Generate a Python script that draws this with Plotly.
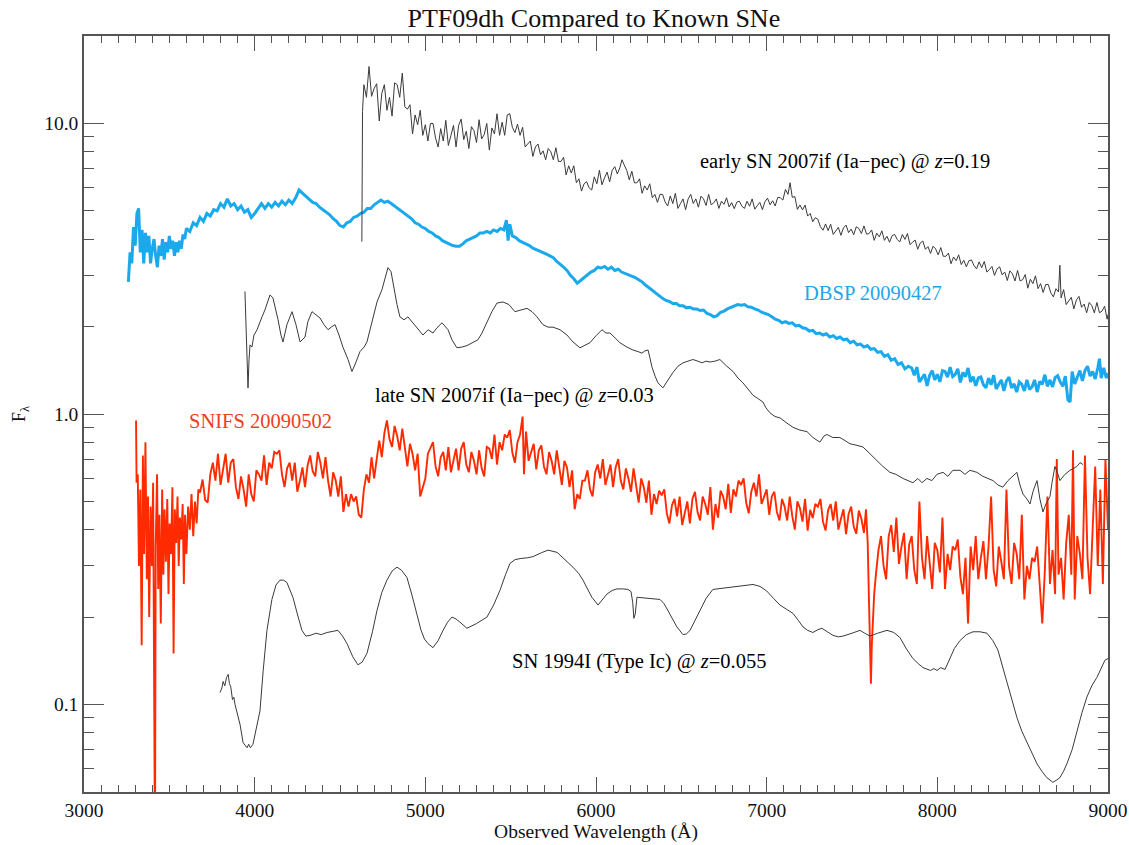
import numpy as np
import plotly.graph_objects as go

# ---------------------------------------------------------------------------
# Spectra: (observed wavelength [Angstrom], F_lambda [arbitrary, offset])
# ---------------------------------------------------------------------------

EARLY_2007IF = [
    (4628, 3.92), (4632, 11.0), (4640, 13.6), (4655, 12.3), (4670, 15.7), (4685, 12.4),
    (4700, 13.2), (4715, 13.7), (4730, 10.2), (4745, 12.7), (4760, 13.6), (4775, 11.1),
    (4790, 12.3), (4805, 10.6), (4820, 13.8), (4835, 13.6), (4850, 12.3), (4865, 14.9),
    (4880, 11.4), (4895, 11.2), (4910, 11.6), (4925, 9.2), (4940, 10.7), (4955, 9.9),
    (4970, 11.1), (4985, 9.1), (5000, 9.9), (5015, 8.7), (5030, 10.0), (5045, 10.0),
    (5060, 8.9), (5075, 8.3), (5090, 9.6), (5105, 8.7), (5120, 10.25), (5135, 8.4),
    (5150, 9.1), (5165, 9.85), (5180, 8.3), (5195, 9.85), (5210, 10.35), (5225, 8.8),
    (5240, 9.4), (5255, 8.2), (5270, 9.75), (5285, 9.45), (5300, 8.6), (5315, 10.3),
    (5330, 8.85), (5345, 9.15), (5360, 10.0), (5375, 8.1), (5390, 9.65), (5405, 9.2),
    (5420, 10.8), (5435, 9.1), (5450, 10.1), (5465, 9.1), (5480, 10.7), (5495, 10.8),
    (5510, 9.7), (5525, 9.3), (5540, 9.95), (5555, 9.1), (5570, 9.7), (5585, 8.3),
    (5600, 8.5), (5615, 8.7), (5630, 7.7), (5645, 8.3), (5660, 8.5), (5675, 7.8),
    (5690, 8.05), (5705, 7.5), (5720, 8.2), (5735, 8.0), (5750, 7.5), (5765, 8.25),
    (5780, 7.4), (5795, 7.4), (5810, 7.65), (5825, 6.65), (5840, 7.15), (5855, 6.75),
    (5870, 7.15), (5885, 6.25), (5900, 6.45), (5915, 5.85), (5930, 6.2), (5945, 6.3),
    (5960, 6.0), (5975, 5.9), (5990, 6.55), (6005, 6.2), (6020, 6.9), (6035, 6.15),
    (6050, 6.5), (6065, 6.8), (6080, 6.3), (6095, 6.9), (6110, 7.1), (6125, 6.7),
    (6140, 7.05), (6152, 7.5), (6165, 7.2), (6180, 6.9), (6195, 6.4), (6210, 6.85),
    (6225, 6.25), (6240, 6.25), (6255, 6.45), (6270, 5.75), (6285, 6.1), (6300, 5.9),
    (6315, 6.2), (6330, 5.55), (6345, 5.7), (6360, 5.35), (6375, 5.7), (6390, 5.7),
    (6405, 5.37), (6420, 5.2), (6435, 5.63), (6450, 5.3), (6465, 5.75), (6480, 5.1),
    (6495, 5.3), (6510, 5.5), (6525, 5.05), (6540, 5.5), (6555, 5.7), (6570, 5.3),
    (6585, 5.5), (6600, 5.15), (6615, 5.62), (6630, 5.5), (6645, 5.22), (6660, 5.7),
    (6675, 5.25), (6690, 5.33), (6705, 5.5), (6720, 5.1), (6735, 5.4), (6750, 5.27),
    (6765, 5.55), (6780, 5.16), (6795, 5.34), (6810, 5.09), (6825, 5.36), (6840, 5.4),
    (6855, 5.19), (6870, 5.1), (6885, 5.4), (6900, 5.19), (6915, 5.5), (6930, 5.07),
    (6945, 5.21), (6960, 5.35), (6975, 5.05), (6990, 5.38), (7005, 5.53), (7020, 5.25),
    (7035, 5.42), (7050, 5.2), (7065, 5.57), (7080, 5.55), (7095, 5.45), (7110, 5.93),
    (7125, 5.7), (7137, 6.25), (7150, 5.57), (7165, 5.6), (7180, 5.06), (7195, 5.24),
    (7210, 5.04), (7225, 5.24), (7240, 4.8), (7255, 4.9), (7270, 4.59), (7285, 4.74),
    (7300, 4.68), (7315, 4.41), (7330, 4.29), (7345, 4.51), (7360, 4.28), (7375, 4.5),
    (7390, 4.15), (7405, 4.27), (7420, 4.39), (7435, 4.12), (7450, 4.37), (7465, 4.47),
    (7480, 4.21), (7495, 4.33), (7510, 4.14), (7525, 4.41), (7540, 4.35), (7555, 4.18),
    (7570, 4.44), (7585, 4.16), (7600, 4.18), (7615, 4.3), (7630, 3.96), (7645, 4.19),
    (7660, 4.07), (7675, 4.27), (7690, 3.96), (7705, 4.09), (7720, 3.9), (7735, 4.11),
    (7750, 4.15), (7765, 3.99), (7780, 3.91), (7795, 4.15), (7810, 3.99), (7825, 4.18),
    (7840, 3.83), (7855, 3.9), (7870, 3.97), (7885, 3.69), (7900, 3.88), (7915, 3.94),
    (7930, 3.69), (7945, 3.77), (7960, 3.57), (7975, 3.78), (7990, 3.7), (8005, 3.53),
    (8020, 3.74), (8035, 3.49), (8050, 3.49), (8065, 3.58), (8080, 3.29), (8095, 3.47),
    (8110, 3.37), (8125, 3.53), (8140, 3.27), (8155, 3.38), (8170, 3.21), (8185, 3.37),
    (8200, 3.39), (8215, 3.24), (8230, 3.16), (8245, 3.34), (8260, 3.19), (8275, 3.35),
    (8290, 3.08), (8305, 3.14), (8320, 3.22), (8335, 3.0), (8350, 3.16), (8365, 3.21),
    (8380, 3.01), (8395, 3.08), (8410, 2.88), (8425, 3.11), (8440, 3.04), (8455, 2.87),
    (8470, 3.12), (8485, 2.87), (8500, 2.9), (8515, 3.02), (8530, 2.71), (8545, 2.91),
    (8560, 2.81), (8575, 2.99), (8590, 2.7), (8605, 2.81), (8620, 2.62), (8635, 2.79),
    (8650, 2.79), (8665, 2.61), (8680, 2.53), (8695, 2.7), (8710, 2.63), (8718, 3.25),
    (8725, 2.51), (8740, 2.68), (8755, 2.38), (8770, 2.45), (8785, 2.52), (8800, 2.3),
    (8815, 2.47), (8830, 2.54), (8845, 2.33), (8860, 2.39), (8875, 2.23), (8890, 2.42),
    (8905, 2.36), (8920, 2.23), (8935, 2.42), (8950, 2.23), (8965, 2.26), (8980, 2.35),
    (8995, 2.12), (9000, 2.2),
]

DBSP_20090427 = [
    (3260, 2.85), (3270, 3.6), (3280, 3.3), (3290, 4.4), (3300, 3.8), (3310, 4.9),
    (3320, 5.1), (3330, 3.6), (3340, 4.3), (3350, 3.3), (3360, 4.2), (3370, 3.6),
    (3380, 4.1), (3390, 3.3), (3400, 3.7), (3410, 4.0), (3420, 3.5), (3430, 3.2),
    (3440, 3.8), (3450, 3.5), (3460, 4.0), (3470, 3.4), (3480, 3.9), (3490, 3.6),
    (3500, 4.1), (3510, 3.7), (3520, 3.95), (3530, 3.5), (3540, 3.9), (3550, 3.6),
    (3560, 3.95), (3570, 3.7), (3580, 4.15), (3590, 4.0), (3600, 4.35), (3620, 4.25),
    (3640, 4.55), (3660, 4.45), (3680, 4.75), (3700, 4.6), (3720, 4.9), (3740, 4.8),
    (3760, 5.05), (3780, 5.0), (3800, 5.3), (3820, 5.15), (3840, 5.5), (3860, 5.2),
    (3880, 5.3), (3900, 5.05), (3920, 5.2), (3940, 4.95), (3960, 5.05), (3980, 4.75),
    (4000, 4.9), (4020, 5.1), (4040, 5.3), (4060, 5.1), (4080, 5.3), (4100, 5.15),
    (4120, 5.35), (4140, 5.2), (4160, 5.4), (4180, 5.25), (4200, 5.45), (4220, 5.3),
    (4240, 5.55), (4260, 5.9), (4280, 5.75), (4300, 5.6), (4320, 5.5), (4340, 5.35),
    (4360, 5.3), (4380, 5.15), (4400, 5.05), (4420, 4.95), (4440, 4.85), (4460, 4.7),
    (4480, 4.6), (4500, 4.45), (4520, 4.4), (4540, 4.55), (4560, 4.6), (4580, 4.75),
    (4600, 4.8), (4620, 4.9), (4640, 4.95), (4660, 5.1), (4680, 5.1), (4700, 5.25),
    (4720, 5.35), (4740, 5.45), (4760, 5.35), (4780, 5.4), (4800, 5.3), (4820, 5.2),
    (4840, 5.1), (4860, 5.0), (4880, 4.9), (4900, 4.8), (4920, 4.7), (4940, 4.55),
    (4960, 4.5), (4980, 4.4), (5000, 4.35), (5020, 4.25), (5040, 4.2), (5060, 4.1),
    (5080, 4.05), (5100, 3.95), (5120, 3.9), (5140, 3.85), (5160, 3.8), (5180, 3.78),
    (5200, 3.78), (5220, 3.85), (5240, 3.95), (5260, 4.0), (5280, 4.05), (5300, 4.1),
    (5320, 4.2), (5340, 4.2), (5360, 4.25), (5380, 4.2), (5400, 4.3), (5420, 4.25),
    (5440, 4.35), (5460, 4.3), (5475, 4.65), (5485, 3.95), (5495, 4.5), (5510, 4.1),
    (5530, 4.05), (5550, 3.95), (5570, 3.9), (5590, 3.85), (5610, 3.8), (5630, 3.72),
    (5650, 3.68), (5670, 3.62), (5690, 3.58), (5710, 3.55), (5730, 3.5), (5750, 3.45),
    (5770, 3.35), (5790, 3.28), (5810, 3.2), (5830, 3.12), (5850, 3.0), (5870, 2.92),
    (5890, 2.82), (5910, 2.88), (5930, 2.95), (5950, 3.02), (5970, 3.08), (5990, 3.12),
    (6010, 3.2), (6030, 3.18), (6050, 3.22), (6070, 3.15), (6090, 3.2), (6110, 3.12),
    (6130, 3.15), (6150, 3.08), (6170, 3.05), (6190, 3.02), (6210, 2.98), (6230, 2.95),
    (6250, 2.9), (6270, 2.85), (6290, 2.78), (6310, 2.72), (6330, 2.68), (6350, 2.62),
    (6370, 2.56), (6390, 2.5), (6410, 2.46), (6430, 2.44), (6450, 2.4), (6470, 2.4),
    (6490, 2.36), (6510, 2.36), (6530, 2.32), (6550, 2.33), (6570, 2.3), (6590, 2.3),
    (6610, 2.27), (6630, 2.28), (6650, 2.22), (6670, 2.2), (6690, 2.16), (6710, 2.18),
    (6730, 2.24), (6750, 2.26), (6770, 2.3), (6790, 2.33), (6810, 2.36), (6830, 2.38),
    (6850, 2.37), (6870, 2.38), (6890, 2.34), (6910, 2.33), (6930, 2.3), (6950, 2.28),
    (6970, 2.24), (6990, 2.22), (7010, 2.2), (7030, 2.16), (7050, 2.12), (7070, 2.1),
    (7090, 2.06), (7110, 2.08), (7130, 2.05), (7150, 2.06), (7170, 2.01), (7190, 2.02),
    (7210, 1.98), (7230, 1.97), (7250, 1.93), (7270, 1.94), (7290, 1.89), (7310, 1.9),
    (7330, 1.87), (7350, 1.89), (7370, 1.84), (7390, 1.86), (7410, 1.82), (7430, 1.84),
    (7450, 1.8), (7470, 1.81), (7490, 1.76), (7510, 1.78), (7530, 1.73), (7550, 1.74),
    (7570, 1.7), (7590, 1.72), (7610, 1.67), (7630, 1.68), (7650, 1.63), (7670, 1.64),
    (7690, 1.58), (7710, 1.6), (7730, 1.53), (7750, 1.55), (7770, 1.48), (7790, 1.5),
    (7810, 1.43), (7830, 1.46), (7850, 1.44), (7865, 1.36), (7880, 1.45), (7895, 1.29),
    (7910, 1.33), (7925, 1.37), (7940, 1.25), (7955, 1.36), (7970, 1.41), (7985, 1.31),
    (8000, 1.37), (8015, 1.29), (8030, 1.41), (8045, 1.40), (8060, 1.34), (8075, 1.45),
    (8090, 1.345), (8105, 1.37), (8120, 1.43), (8135, 1.285), (8150, 1.39), (8165, 1.345),
    (8180, 1.44), (8195, 1.29), (8210, 1.345), (8225, 1.25), (8240, 1.33), (8255, 1.34),
    (8270, 1.26), (8285, 1.23), (8300, 1.33), (8315, 1.26), (8330, 1.36), (8345, 1.22),
    (8360, 1.265), (8375, 1.31), (8390, 1.2), (8405, 1.30), (8420, 1.34), (8435, 1.23),
    (8450, 1.27), (8465, 1.19), (8480, 1.29), (8495, 1.265), (8510, 1.20), (8525, 1.31),
    (8540, 1.215), (8555, 1.24), (8570, 1.31), (8585, 1.19), (8600, 1.295), (8615, 1.265),
    (8630, 1.365), (8645, 1.245), (8660, 1.31), (8675, 1.24), (8690, 1.335), (8705, 1.355),
    (8720, 1.29), (8735, 1.245), (8750, 1.35), (8765, 1.12), (8778, 1.10), (8790, 1.40),
    (8805, 1.27), (8820, 1.33), (8835, 1.41), (8850, 1.30), (8865, 1.41), (8880, 1.46),
    (8895, 1.35), (8910, 1.40), (8925, 1.32), (8940, 1.44), (8950, 1.55), (8960, 1.33),
    (8975, 1.44), (8990, 1.33), (9000, 1.38),
]

LATE_2007IF = [
    (3943, 2.64), (3949, 1.95), (3955, 1.42), (3961, 1.23), (3967, 1.54), (3973, 1.73),
    (3984, 1.70), (3996, 1.87), (4014, 1.95), (4031, 2.08), (4043, 2.16), (4060, 2.28),
    (4078, 2.47), (4090, 2.57), (4107, 2.51), (4125, 2.28), (4137, 2.11), (4154, 1.87),
    (4166, 1.77), (4189, 2.03), (4219, 2.25), (4242, 2.03), (4266, 1.77), (4295, 1.84),
    (4312, 2.08), (4336, 2.25), (4359, 2.19), (4383, 2.14), (4406, 2.03), (4430, 1.95),
    (4453, 2.00), (4471, 2.03), (4494, 1.87), (4517, 1.70), (4547, 1.54), (4570, 1.40),
    (4594, 1.51), (4617, 1.64), (4641, 1.70), (4658, 1.77), (4676, 1.95), (4693, 2.16),
    (4717, 2.43), (4746, 2.68), (4764, 2.97), (4781, 3.19), (4799, 3.09), (4816, 2.68),
    (4834, 2.38), (4851, 2.16), (4875, 2.11), (4898, 2.16), (4922, 2.08), (4951, 1.99),
    (4986, 1.87), (5016, 1.95), (5045, 1.90), (5068, 1.98), (5098, 2.06), (5133, 1.95),
    (5156, 1.80), (5185, 1.69), (5215, 1.70), (5244, 1.72), (5273, 1.76), (5308, 1.80),
    (5332, 1.90), (5361, 2.06), (5390, 2.25), (5420, 2.41), (5455, 2.43), (5490, 2.38),
    (5525, 2.25), (5560, 2.28), (5596, 2.31), (5625, 2.25), (5654, 2.16), (5689, 2.03),
    (5719, 1.99), (5748, 1.99), (5789, 1.95), (5830, 1.87), (5865, 1.77), (5906, 1.69),
    (5935, 1.72), (5965, 1.76), (6000, 1.86), (6035, 1.95), (6058, 1.90), (6082, 1.90),
    (6111, 1.83), (6140, 1.76), (6181, 1.70), (6217, 1.66), (6246, 1.64), (6269, 1.62),
    (6287, 1.65), (6305, 1.66), (6316, 1.56), (6328, 1.45), (6346, 1.35), (6363, 1.28),
    (6392, 1.23), (6422, 1.31), (6451, 1.39), (6480, 1.46), (6510, 1.50), (6539, 1.52),
    (6568, 1.54), (6597, 1.52), (6621, 1.50), (6644, 1.52), (6668, 1.51), (6697, 1.52),
    (6726, 1.54), (6767, 1.46), (6803, 1.40), (6832, 1.33), (6861, 1.28), (6890, 1.22),
    (6920, 1.16), (6949, 1.13), (6978, 1.10), (6996, 1.05), (7019, 1.01), (7049, 0.98),
    (7078, 0.97), (7119, 0.93), (7154, 0.90), (7195, 0.88), (7236, 0.87), (7271, 0.83),
    (7312, 0.80), (7336, 0.84), (7353, 0.85), (7388, 0.83), (7429, 0.83), (7459, 0.81),
    (7488, 0.79), (7529, 0.78), (7564, 0.77), (7605, 0.73), (7646, 0.69), (7681, 0.66),
    (7722, 0.63), (7757, 0.62), (7799, 0.60), (7828, 0.59), (7857, 0.58), (7886, 0.60),
    (7910, 0.58), (7939, 0.60), (7968, 0.59), (7998, 0.62), (8033, 0.63), (8062, 0.61),
    (8091, 0.64), (8133, 0.64), (8162, 0.62), (8191, 0.64), (8232, 0.63), (8267, 0.61),
    (8297, 0.60), (8326, 0.59), (8355, 0.57), (8384, 0.56), (8414, 0.59), (8443, 0.61),
    (8466, 0.63), (8484, 0.57), (8502, 0.53), (8525, 0.51), (8543, 0.49), (8560, 0.54),
    (8584, 0.59), (8601, 0.51), (8619, 0.46), (8636, 0.49), (8660, 0.52), (8672, 0.58),
    (8689, 0.66), (8707, 0.62), (8718, 0.59), (8748, 0.62), (8777, 0.64), (8800, 0.65),
    (8818, 0.66), (8836, 0.68), (8853, 0.67),
]

SNIFS_20090502 = [
    (3305, 0.95), (3308, 0.58), (3315, 0.62), (3322, 0.30), (3330, 0.55), (3338, 0.16),
    (3345, 0.72), (3352, 0.33), (3360, 0.80), (3368, 0.27), (3375, 0.52), (3382, 0.20),
    (3390, 0.48), (3398, 0.30), (3405, 0.58), (3412, 0.09), (3416, 0.03), (3420, 0.35),
    (3428, 0.62), (3435, 0.25), (3442, 0.45), (3450, 0.19), (3458, 0.55), (3465, 0.28),
    (3472, 0.47), (3480, 0.31), (3488, 0.51), (3495, 0.24), (3502, 0.42), (3510, 0.33),
    (3518, 0.56), (3525, 0.15), (3532, 0.47), (3540, 0.36), (3548, 0.52), (3555, 0.30),
    (3562, 0.44), (3570, 0.37), (3578, 0.49), (3585, 0.26), (3592, 0.45), (3600, 0.33),
    (3610, 0.48), (3620, 0.40), (3630, 0.53), (3640, 0.38), (3650, 0.50), (3660, 0.42),
    (3670, 0.55), (3680, 0.537), (3695, 0.595), (3710, 0.506), (3725, 0.496), (3740, 0.62),
    (3755, 0.68), (3770, 0.59), (3785, 0.73), (3800, 0.57), (3815, 0.65), (3830, 0.73),
    (3845, 0.58), (3860, 0.68), (3875, 0.70), (3890, 0.56), (3905, 0.51), (3920, 0.61),
    (3935, 0.55), (3950, 0.48), (3965, 0.62), (3980, 0.53), (3995, 0.50), (4010, 0.64),
    (4025, 0.62), (4040, 0.59), (4055, 0.72), (4070, 0.57), (4085, 0.68), (4100, 0.65),
    (4115, 0.74), (4130, 0.73), (4145, 0.75), (4160, 0.62), (4175, 0.56), (4190, 0.65),
    (4205, 0.68), (4220, 0.59), (4235, 0.68), (4250, 0.54), (4265, 0.59), (4280, 0.655),
    (4295, 0.56), (4310, 0.665), (4325, 0.72), (4340, 0.635), (4355, 0.61), (4370, 0.74),
    (4385, 0.68), (4400, 0.60), (4415, 0.71), (4430, 0.59), (4445, 0.52), (4460, 0.63),
    (4475, 0.59), (4490, 0.52), (4505, 0.61), (4520, 0.46), (4535, 0.53), (4550, 0.48),
    (4565, 0.53), (4580, 0.50), (4595, 0.52), (4610, 0.45), (4625, 0.44), (4640, 0.55),
    (4655, 0.62), (4670, 0.58), (4685, 0.71), (4700, 0.60), (4715, 0.70), (4730, 0.81),
    (4745, 0.71), (4760, 0.86), (4775, 0.95), (4790, 0.82), (4805, 0.77), (4820, 0.91),
    (4835, 0.84), (4850, 0.75), (4865, 0.89), (4880, 0.75), (4895, 0.66), (4910, 0.79),
    (4925, 0.73), (4940, 0.64), (4955, 0.73), (4970, 0.52), (4985, 0.56), (5000, 0.60),
    (5015, 0.73), (5030, 0.76), (5045, 0.80), (5060, 0.66), (5075, 0.61), (5090, 0.71),
    (5105, 0.74), (5120, 0.64), (5135, 0.77), (5150, 0.63), (5165, 0.69), (5180, 0.76),
    (5195, 0.64), (5210, 0.76), (5225, 0.80), (5240, 0.67), (5255, 0.63), (5270, 0.74),
    (5285, 0.69), (5300, 0.62), (5315, 0.75), (5330, 0.65), (5345, 0.61), (5360, 0.77),
    (5375, 0.76), (5390, 0.70), (5405, 0.85), (5420, 0.67), (5435, 0.80), (5450, 0.75),
    (5465, 0.85), (5480, 0.83), (5495, 0.88), (5510, 0.735), (5525, 0.68), (5540, 0.80),
    (5555, 0.85), (5570, 0.98), (5578, 0.62), (5590, 0.87), (5605, 0.69), (5620, 0.74),
    (5635, 0.79), (5650, 0.645), (5665, 0.75), (5680, 0.78), (5695, 0.66), (5710, 0.62),
    (5725, 0.74), (5740, 0.69), (5755, 0.62), (5770, 0.75), (5785, 0.64), (5800, 0.57),
    (5815, 0.69), (5830, 0.655), (5845, 0.56), (5860, 0.64), (5875, 0.47), (5890, 0.53),
    (5905, 0.51), (5920, 0.59), (5935, 0.59), (5950, 0.64), (5965, 0.55), (5980, 0.52),
    (5995, 0.63), (6010, 0.67), (6025, 0.60), (6040, 0.70), (6055, 0.57), (6070, 0.62),
    (6085, 0.67), (6100, 0.56), (6115, 0.655), (6130, 0.70), (6145, 0.59), (6160, 0.55),
    (6175, 0.65), (6190, 0.60), (6205, 0.54), (6220, 0.65), (6235, 0.555), (6250, 0.495),
    (6265, 0.60), (6280, 0.56), (6295, 0.495), (6310, 0.59), (6325, 0.45), (6340, 0.53),
    (6355, 0.49), (6370, 0.545), (6385, 0.525), (6400, 0.55), (6415, 0.455), (6430, 0.42),
    (6445, 0.485), (6460, 0.51), (6475, 0.444), (6490, 0.52), (6505, 0.415), (6520, 0.455),
    (6535, 0.50), (6550, 0.42), (6565, 0.51), (6580, 0.54), (6595, 0.46), (6610, 0.43),
    (6625, 0.52), (6640, 0.49), (6655, 0.45), (6670, 0.56), (6685, 0.40), (6700, 0.49),
    (6715, 0.44), (6730, 0.545), (6745, 0.52), (6760, 0.47), (6775, 0.575), (6790, 0.457),
    (6805, 0.55), (6820, 0.52), (6835, 0.59), (6850, 0.57), (6865, 0.60), (6880, 0.495),
    (6895, 0.455), (6910, 0.54), (6925, 0.58), (6940, 0.52), (6955, 0.62), (6970, 0.49),
    (6985, 0.52), (7000, 0.55), (7015, 0.45), (7030, 0.52), (7045, 0.54), (7060, 0.46),
    (7075, 0.43), (7090, 0.51), (7105, 0.48), (7120, 0.43), (7135, 0.52), (7150, 0.445),
    (7165, 0.40), (7180, 0.50), (7195, 0.474), (7210, 0.426), (7225, 0.51), (7240, 0.397),
    (7255, 0.468), (7270, 0.438), (7285, 0.49), (7300, 0.48), (7315, 0.51), (7330, 0.426),
    (7345, 0.397), (7360, 0.467), (7375, 0.49), (7390, 0.43), (7405, 0.50), (7420, 0.40),
    (7435, 0.435), (7450, 0.47), (7465, 0.386), (7480, 0.453), (7495, 0.48), (7510, 0.41),
    (7525, 0.387), (7540, 0.465), (7555, 0.436), (7570, 0.39), (7582, 0.47), (7592, 0.36),
    (7600, 0.22), (7606, 0.14), (7611, 0.118), (7616, 0.16), (7623, 0.20), (7630, 0.24),
    (7640, 0.28), (7655, 0.34), (7670, 0.38), (7685, 0.30), (7700, 0.27), (7715, 0.38),
    (7730, 0.415), (7745, 0.335), (7760, 0.44), (7775, 0.305), (7790, 0.35), (7805, 0.39),
    (7820, 0.27), (7835, 0.355), (7850, 0.38), (7865, 0.29), (7880, 0.26), (7895, 0.50),
    (7910, 0.32), (7925, 0.27), (7940, 0.38), (7955, 0.30), (7970, 0.25), (7985, 0.36),
    (8000, 0.34), (8015, 0.285), (8030, 0.44), (8045, 0.25), (8060, 0.33), (8075, 0.29),
    (8090, 0.35), (8105, 0.34), (8120, 0.37), (8135, 0.275), (8150, 0.24), (8165, 0.32),
    (8180, 0.19), (8195, 0.35), (8210, 0.29), (8225, 0.38), (8240, 0.27), (8255, 0.32),
    (8270, 0.365), (8285, 0.27), (8300, 0.35), (8315, 0.52), (8330, 0.29), (8345, 0.255),
    (8360, 0.35), (8375, 0.31), (8390, 0.27), (8405, 0.55), (8420, 0.30), (8435, 0.26),
    (8450, 0.36), (8465, 0.33), (8480, 0.27), (8495, 0.45), (8510, 0.23), (8525, 0.30),
    (8540, 0.27), (8555, 0.32), (8570, 0.31), (8585, 0.35), (8600, 0.25), (8615, 0.19),
    (8630, 0.29), (8645, 0.52), (8660, 0.26), (8675, 0.34), (8690, 0.24), (8700, 0.70),
    (8710, 0.28), (8725, 0.32), (8740, 0.23), (8755, 0.36), (8770, 0.45), (8785, 0.28),
    (8795, 0.75), (8805, 0.23), (8820, 0.38), (8835, 0.33), (8850, 0.27), (8865, 0.72),
    (8880, 0.32), (8895, 0.24), (8910, 0.40), (8925, 0.66), (8940, 0.30), (8955, 0.55),
    (8970, 0.26), (8985, 0.70), (9000, 0.40),
]

SN1994I = [
    (3797, 0.110), (3808, 0.114), (3815, 0.120), (3825, 0.116), (3835, 0.124),
    (3845, 0.127), (3852, 0.118), (3860, 0.115), (3870, 0.104), (3878, 0.106),
    (3885, 0.100), (3895, 0.094), (3905, 0.088), (3915, 0.085), (3932, 0.074),
    (3945, 0.072), (3955, 0.071), (3965, 0.073), (3975, 0.071), (3990, 0.073),
    (4010, 0.082), (4031, 0.095), (4050, 0.131), (4072, 0.180), (4101, 0.230),
    (4125, 0.258), (4148, 0.268), (4170, 0.268), (4189, 0.263), (4225, 0.233),
    (4250, 0.205), (4277, 0.180), (4300, 0.172), (4324, 0.173), (4360, 0.176),
    (4390, 0.174), (4424, 0.177), (4460, 0.179), (4488, 0.180), (4515, 0.172),
    (4541, 0.162), (4575, 0.146), (4605, 0.137), (4630, 0.140), (4658, 0.150),
    (4690, 0.178), (4717, 0.211), (4745, 0.243), (4775, 0.268), (4805, 0.288),
    (4834, 0.297), (4860, 0.290), (4892, 0.274), (4920, 0.240), (4951, 0.206),
    (4975, 0.180), (4995, 0.168), (5016, 0.162), (5045, 0.157), (5075, 0.166),
    (5104, 0.180), (5130, 0.192), (5156, 0.200), (5180, 0.197), (5203, 0.192),
    (5244, 0.183), (5300, 0.190), (5361, 0.200), (5400, 0.220), (5437, 0.247),
    (5470, 0.280), (5496, 0.306), (5525, 0.315), (5555, 0.318), (5600, 0.320),
    (5631, 0.323), (5680, 0.333), (5719, 0.340), (5772, 0.334), (5820, 0.315),
    (5865, 0.297), (5900, 0.282), (5924, 0.268), (5950, 0.250), (5976, 0.234),
    (6012, 0.220), (6040, 0.230), (6064, 0.240), (6095, 0.247), (6123, 0.250),
    (6160, 0.250), (6187, 0.249), (6205, 0.245), (6215, 0.225), (6222, 0.198),
    (6230, 0.205), (6240, 0.234), (6270, 0.233), (6299, 0.232), (6340, 0.231),
    (6375, 0.230), (6400, 0.222), (6422, 0.211), (6450, 0.196), (6474, 0.185),
    (6510, 0.174), (6530, 0.175), (6551, 0.180), (6580, 0.195), (6609, 0.211),
    (6645, 0.232), (6685, 0.249), (6730, 0.251), (6785, 0.252), (6850, 0.255),
    (6920, 0.259), (6961, 0.255), (7000, 0.246), (7040, 0.232), (7078, 0.220),
    (7115, 0.213), (7154, 0.206), (7185, 0.195), (7213, 0.185), (7240, 0.180),
    (7271, 0.177), (7300, 0.181), (7324, 0.183), (7355, 0.178), (7389, 0.173),
    (7420, 0.171), (7447, 0.172), (7500, 0.176), (7547, 0.180), (7575, 0.176),
    (7605, 0.172), (7650, 0.176), (7705, 0.180), (7745, 0.177), (7781, 0.170),
    (7820, 0.155), (7857, 0.144), (7890, 0.138), (7916, 0.134), (7960, 0.131),
    (7980, 0.133), (7998, 0.131), (8020, 0.134), (8045, 0.132), (8074, 0.145),
    (8100, 0.156), (8133, 0.166), (8170, 0.174), (8209, 0.178), (8250, 0.178),
    (8291, 0.176), (8325, 0.166), (8355, 0.154), (8380, 0.136), (8408, 0.118),
    (8437, 0.103), (8467, 0.090), (8495, 0.081), (8525, 0.074), (8555, 0.068),
    (8584, 0.0625), (8612, 0.059), (8642, 0.056), (8660, 0.055), (8677, 0.054),
    (8700, 0.055), (8718, 0.056), (8740, 0.059), (8759, 0.0625), (8790, 0.070),
    (8818, 0.081), (8848, 0.094), (8876, 0.106), (8905, 0.116), (8935, 0.124),
    (8960, 0.134), (8982, 0.142), (9000, 0.144),
]

# Axis extents and tick labels
X_RANGE = [3000, 9000]
Y_RANGE = [0.05, 20.0]
X_TICKS = [3000, 4000, 5000, 6000, 7000, 8000, 9000]
Y_TICKS = [0.1, 1.0, 10.0]
Y_TICK_TEXT = ["0.1", "1.0", "10.0"]

BLUE = "#1aa9ec"
RED = "#ff2a00"
DARK = "#3a3a3a"
FONT = "Liberation Serif"

# Labels: (text, left-edge wavelength, flux at text centre, colour)
LABELS = [
    ("early SN 2007if (Ia\u2212pec) @ <i>z</i>=0.19", 6597, 7.4, "#000000"),
    ("DBSP 20090427", 7207, 2.61, "#22a6e6"),
    ("late SN 2007if (Ia\u2212pec) @ <i>z</i>=0.03", 4693, 1.16, "#000000"),
    ("SNIFS 20090502", 3603, 0.946, "#ec3f22"),
    ("SN 1994I (Type Ic) @ <i>z</i>=0.055", 5496, 0.141, "#000000"),
]


def unzip(pairs):
    wl, fx = zip(*pairs)
    return list(wl), list(fx)


fig = go.Figure()

for pairs, color, width in [
    (DBSP_20090427, BLUE, 3.0),
    (SNIFS_20090502, RED, 1.9),
    (EARLY_2007IF, DARK, 1.0),
    (LATE_2007IF, DARK, 1.0),
    (SN1994I, DARK, 1.0),
]:
    wl, fx = unzip(pairs)
    fig.add_trace(go.Scatter(
        x=wl, y=fx, mode="lines",
        line=dict(color=color, width=width),
        hoverinfo="skip", showlegend=False,
    ))

for text, wl, fx, color in LABELS:
    fig.add_annotation(
        x=wl, y=np.log10(fx), xref="x", yref="y",
        text=text, showarrow=False, xanchor="left", yanchor="middle",
        font=dict(family=FONT, size=20.5, color=color),
    )

axis_common = dict(
    showline=True, linecolor="#555555", linewidth=1.6,
    mirror="ticks", ticks="inside", tickcolor="#555555", tickwidth=1.3,
    showgrid=False, zeroline=False, automargin=False,
    tickfont=dict(family=FONT, size=19.5, color="#111111"),
)

fig.update_xaxes(
    range=X_RANGE, tickvals=X_TICKS, ticklen=15,
    minor=dict(dtick=100, ticks="inside", ticklen=7, tickcolor="#555555",
               tickwidth=1.2, showgrid=False),
    title=dict(text="Observed Wavelength (\u00c5)", standoff=2,
               font=dict(family=FONT, size=19.5, color="#111111")),
    **axis_common,
)
fig.update_yaxes(
    type="log", range=[np.log10(Y_RANGE[0]), np.log10(Y_RANGE[1])],
    tickvals=Y_TICKS, ticktext=Y_TICK_TEXT, ticklen=20,
    minor=dict(dtick="D1", ticks="inside", ticklen=10, tickcolor="#555555",
               tickwidth=1.2, showgrid=False),
    title=dict(text="F<sub>\u03bb</sub>", standoff=14,
               font=dict(family=FONT, size=18, color="#111111")),
    **axis_common,
)

fig.update_layout(
    width=1129, height=845,
    margin=dict(l=84, r=21, t=36, b=53),
    paper_bgcolor="white", plot_bgcolor="white",
    title=dict(text="PTF09dh Compared to Known SNe", x=0.526, xanchor="center",
               y=0.979, yanchor="middle", automargin=False,
               font=dict(family=FONT, size=26, color="#111111")),
)

fig.write_html("out.html")
